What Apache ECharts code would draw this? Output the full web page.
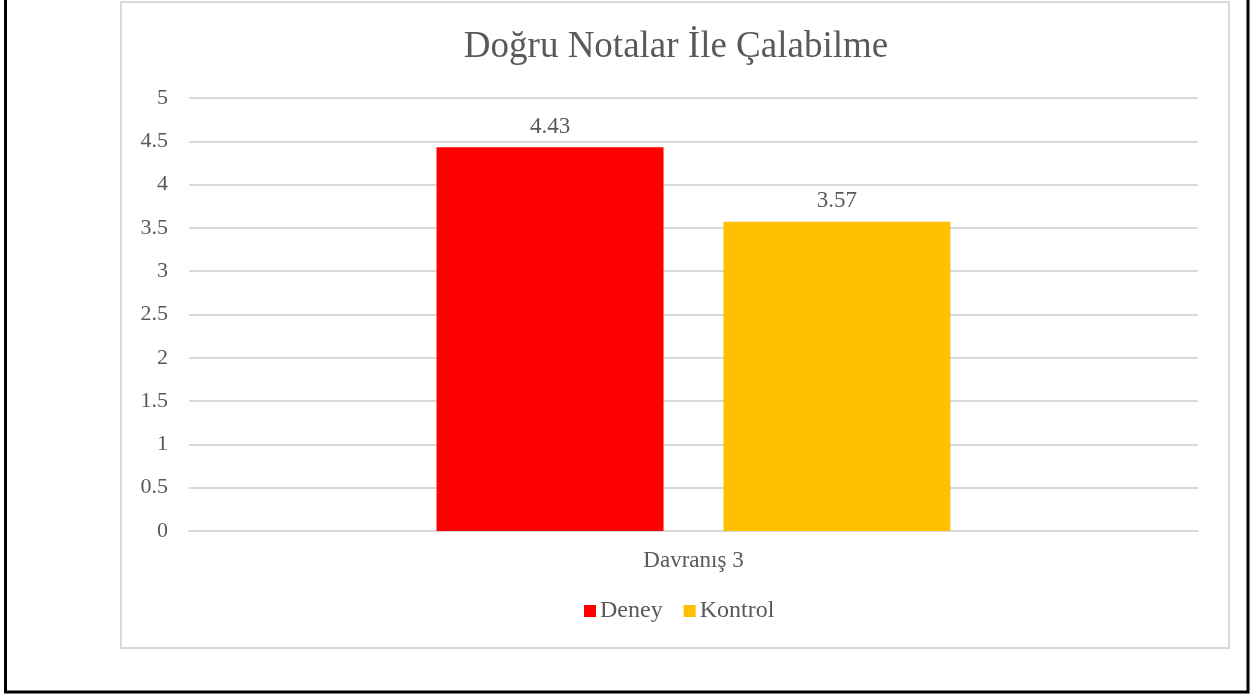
<!DOCTYPE html>
<html>
<head>
<meta charset="utf-8">
<script src="https://cdn.jsdelivr.net/npm/echarts@6/dist/echarts.min.js"></script>
<style>
  html, body { margin: 0; padding: 0; background: #fff; }
  #chart { width: 1253px; height: 696px; }
</style>
</head>
<body>
<div id="chart"></div>
<script>
const title = 'Doğru Notalar İle Çalabilme'
const categories = ['Davranış 3']
const deneyValues = [4.43]
const kontrolValues = [3.57]
const yTicks = [0, 0.5, 1, 1.5, 2, 2.5, 3, 3.5, 4, 4.5, 5]

const font = '"Liberation Serif", "Times New Roman", serif'
const textColor = '#595959'

let chart = echarts.init(document.getElementById('chart'))
chart.setOption({
  animation: false,
  title: {
    text: title,
    left: 671,
    top: 24,
    textAlign: 'center',
    textStyle: {
      fontFamily: font,
      fontWeight: 'normal',
      fontSize: 37,
      color: textColor
    }
  },
  graphic: [
    // kenarlık çerçevesi
    {
      type: 'rect',
      z: -10,
      shape: { x: 121, y: 2, width: 1108, height: 646 },
      style: { fill: 'none', stroke: '#d9d9d9', lineWidth: 2 }
    },
    {
      type: 'polyline',
      z: -10,
      shape: { points: [[5.5, 0], [5.5, 692], [1248, 692], [1248, 0]] },
      style: { fill: 'none', stroke: '#000', lineWidth: 3 }
    }
  ],
  legend: {
    data: ['Deney', 'Kontrol'],
    left: 579,
    top: 594,
    itemWidth: 12,
    itemHeight: 12,
    itemGap: 21,
    icon: 'rect',
    textStyle: {
      fontFamily: font,
      fontSize: 24,
      color: textColor,
      padding: [0, 0, 0, -1]
    }
  },
  grid: {
    left: 189,
    right: 55,
    top: 98,
    bottom: 165
  },
  xAxis: {
    type: 'category',
    data: categories,
    axisLine: { show: true, lineStyle: { color: '#d9d9d9', width: 2 } },
    axisTick: { show: false },
    axisLabel: {
      fontFamily: font,
      fontSize: 23,
      color: textColor,
      margin: 18
    }
  },
  yAxis: {
    type: 'value',
    min: 0,
    max: 5,
    interval: 0.5,
    axisLine: { show: false },
    axisTick: { show: false },
    axisLabel: {
      fontFamily: font,
      fontSize: 22,
      color: textColor,
      margin: 21,
      formatter: v => (yTicks.indexOf(v) >= 0 ? String(v) : '')
    },
    splitLine: { lineStyle: { color: '#d9d9d9', width: 2 } }
  },
  series: [
    {
      name: 'Deney',
      type: 'bar',
      data: deneyValues,
      barWidth: 227,
      barGap: '26.4%',
      itemStyle: { color: '#ff0000' },
      label: {
        show: true,
        position: 'top',
        distance: 9,
        fontFamily: font,
        fontSize: 23,
        color: textColor
      }
    },
    {
      name: 'Kontrol',
      type: 'bar',
      data: kontrolValues,
      barWidth: 227,
      barGap: '26.4%',
      itemStyle: { color: '#ffc000' },
      label: {
        show: true,
        position: 'top',
        distance: 9,
        fontFamily: font,
        fontSize: 23,
        color: textColor
      }
    }
  ]
})
</script>
</body>
</html>
